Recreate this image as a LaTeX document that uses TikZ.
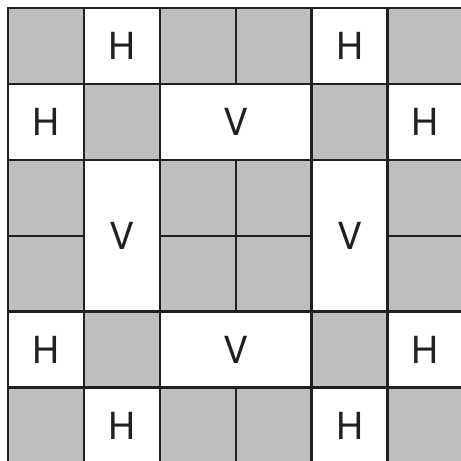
\documentclass[tikz,border=0pt]{standalone}
\usepackage{fontspec}
\setmainfont{TeX Gyre Heros}
\definecolor{cellgray}{RGB}{189,190,192}
\definecolor{ink}{RGB}{35,31,32}
\begin{document}
\begin{tikzpicture}[x=0.75pt,y=-0.75pt,
  gridline/.style={draw=ink,line width=1.7pt},
  graycell/.style={fill=cellgray},
  lbl/.style={text=ink,font=\fontsize{28}{28}\selectfont,inner sep=0pt}]
\useasboundingbox (0,0) rectangle (461,461);
\clip (0,0) rectangle (461,461);
\def\s{75.9}
\def\o{8}
% gray cells
\foreach \c/\r in {0/0,2/0,3/0,5/0, 1/1,4/1, 0/2,2/2,3/2,5/2, 0/3,2/3,3/3,5/3, 1/4,4/4, 0/5,2/5,3/5,5/5}{
  \fill[graycell] ({\o+\c*\s},{\o+\r*\s}) rectangle ({\o+(\c+1)*\s},{\o+(\r+1)*\s});
  \draw[gridline] ({\o+\c*\s},{\o+\r*\s}) rectangle ({\o+(\c+1)*\s},{\o+(\r+1)*\s});
}
% white cells: col/row/width/height
\foreach \c/\r/\w/\h in {1/0/1/1,4/0/1/1, 0/1/1/1,2/1/2/1,5/1/1/1, 1/2/1/2,4/2/1/2, 0/4/1/1,2/4/2/1,5/4/1/1, 1/5/1/1,4/5/1/1}{
  \fill[white] ({\o+\c*\s},{\o+\r*\s}) rectangle ({\o+(\c+\w)*\s},{\o+(\r+\h)*\s});
  \draw[gridline] ({\o+\c*\s},{\o+\r*\s}) rectangle ({\o+(\c+\w)*\s},{\o+(\r+\h)*\s});
}
% labels
\node[lbl] (h1) at ({\o+1.5*\s},{\o+0.5*\s}) {H};
\node[lbl] (h2) at ({\o+4.5*\s},{\o+0.5*\s}) {H};
\node[lbl] (h3) at ({\o+0.5*\s},{\o+1.5*\s}) {H};
\node[lbl] (v1) at ({\o+3*\s},{\o+1.5*\s}) {V};
\node[lbl] (h4) at ({\o+5.5*\s},{\o+1.5*\s}) {H};
\node[lbl] (v2) at ({\o+1.5*\s},{\o+3*\s}) {V};
\node[lbl] (v3) at ({\o+4.5*\s},{\o+3*\s}) {V};
\node[lbl] (h5) at ({\o+0.5*\s},{\o+4.5*\s}) {H};
\node[lbl] (v4) at ({\o+3*\s},{\o+4.5*\s}) {V};
\node[lbl] (h6) at ({\o+5.5*\s},{\o+4.5*\s}) {H};
\node[lbl] (h7) at ({\o+1.5*\s},{\o+5.5*\s}) {H};
\node[lbl] (h8) at ({\o+4.5*\s},{\o+5.5*\s}) {H};
\end{tikzpicture}
\end{document}
